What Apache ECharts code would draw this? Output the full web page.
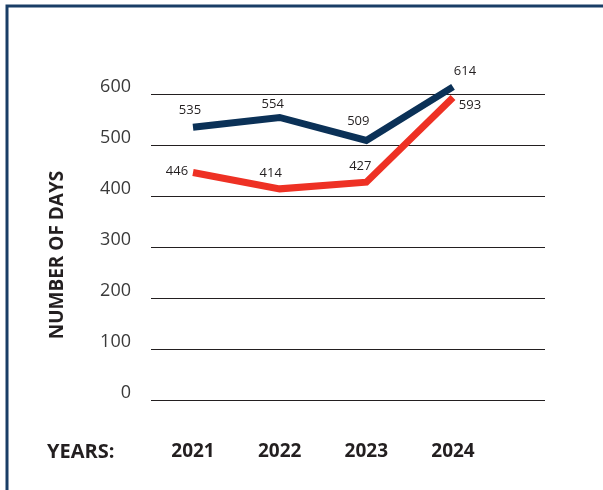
<!DOCTYPE html>
<html><head><meta charset="utf-8">
<script src="https://cdn.jsdelivr.net/npm/echarts@6/dist/echarts.min.js"></script>
<style>html,body{margin:0;padding:0;background:#fff}#c{width:603px;height:490px}</style>
</head><body><div id="c"></div>
<script>
var years = ['2021', '2022', '2023', '2024'];
var navyValues = [535, 554, 509, 614];
var redValues = [446, 414, 427, 593];
var yTicks = [0, 100, 200, 300, 400, 500, 600];

var FONT = '"Open Sans", "Noto Sans", sans-serif';
var TXT = '#231f20';

var navyLabelOffsets = [[-3, -1], [-7, 2], [-8, -4], [12, 0]];
var redLabelOffsets = [[-16, 14], [-9, 0], [-6, 0], [17, 23]];

function buildData(vals, offs) {
  return vals.map(function (v, i) {
    return { value: v, label: { offset: offs[i] } };
  });
}

var chart = echarts.init(document.getElementById('c'));
chart.setOption({
  animation: false,
  grid: [
    { left: 151, right: 58, top: 94, bottom: 90 },
    { left: 193, right: 150, top: 94, bottom: 90 }
  ],
  xAxis: [
    { type: 'value', gridIndex: 0, show: false, min: 0, max: 1 },
    {
      type: 'category', gridIndex: 1, data: years, boundaryGap: false,
      axisLine: { show: false }, axisTick: { show: false },
      axisLabel: { margin: 42, fontFamily: FONT, fontWeight: 'bold', fontSize: 19, color: TXT }
    }
  ],
  yAxis: [
    {
      type: 'value', gridIndex: 0, min: 0, max: 600, interval: 100,
      axisLine: { show: false }, axisTick: { show: false },
      splitLine: { lineStyle: { color: '#231f20', width: 1 } },
      axisLabel: { margin: 20, fontFamily: FONT, fontSize: 18, color: '#3a3a3a', verticalAlign: 'bottom', lineHeight: 14,
        formatter: function (v) { return yTicks.indexOf(v) >= 0 ? String(v) : ''; } }
    },
    {
      type: 'value', gridIndex: 1, min: 0, max: 600, interval: 100, show: false
    }
  ],
  series: [
    {
      type: 'line', xAxisIndex: 1, yAxisIndex: 1, data: buildData(navyValues, navyLabelOffsets),
      clip: false, symbol: 'circle', symbolSize: 2, showSymbol: true, itemStyle: { color: 'rgba(0,0,0,0)' },
      lineStyle: { color: '#0b3157', width: 7, join: 'miter' },
      label: { show: true, position: 'top', distance: 8, fontFamily: FONT, fontSize: 13, color: TXT }
    },
    {
      type: 'line', xAxisIndex: 1, yAxisIndex: 1, data: buildData(redValues, redLabelOffsets),
      clip: false, symbol: 'circle', symbolSize: 2, showSymbol: true, itemStyle: { color: 'rgba(0,0,0,0)' },
      lineStyle: { color: '#ee3124', width: 7, join: 'miter' },
      label: { show: true, position: 'top', distance: 8, fontFamily: FONT, fontSize: 13, color: TXT }
    }
  ],
  graphic: [
    { type: 'rect', shape: { x: 7, y: 6, width: 640, height: 540 }, style: { fill: 'none', stroke: '#1a3e66', lineWidth: 3 } },
    { type: 'text', x: 47, y: 452, style: { text: 'YEARS:', font: 'bold 20px ' + FONT, fill: TXT, textVerticalAlign: 'middle' } },
    { type: 'text', x: 58, y: 255, rotation: Math.PI / 2, style: { text: 'NUMBER OF DAYS', font: 'bold 19px ' + FONT, fill: TXT, textAlign: 'center', textVerticalAlign: 'middle' } }
  ]
});
</script></body></html>
